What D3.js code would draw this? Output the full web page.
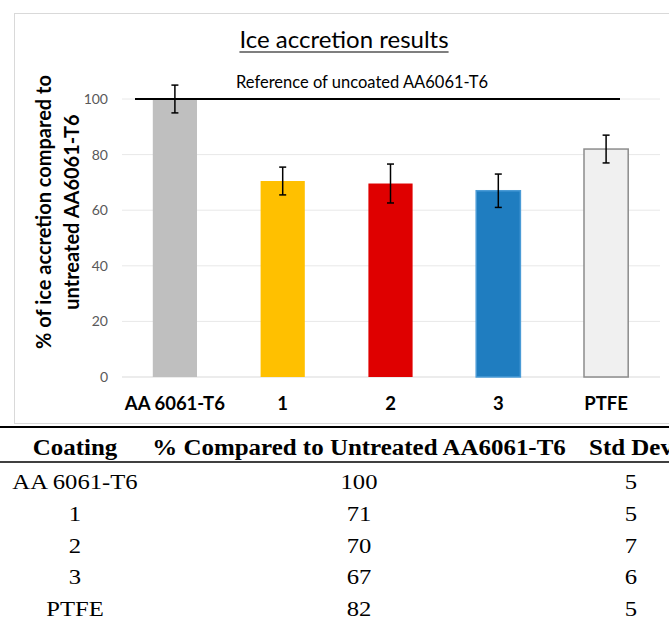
<!DOCTYPE html>
<html>
<head>
<meta charset="utf-8">
<script src="https://cdn.jsdelivr.net/npm/d3@7/dist/d3.min.js"></script>
<style>
  body { margin: 0; background: #fff; overflow: hidden; }
  svg { display: block; }
</style>
</head>
<body>
<div class="canvas"></div>
<script>
// data
const coatings = ["AA 6061-T6", "1", "2", "3", "PTFE"];
const iceValues = [100, 70.5, 69.6, 67.0, 82.0];
const stdDevs = [5, 5, 7, 6, 5];
const barColors = ["#bfbfbf", "#ffc000", "#df0000", "#1f7dc0", "#f0f0f0"];
const barStrokes = ["none", "none", "none", "#4a9bd6", "#8c8c8c"];
const yTicks = [0, 20, 40, 60, 80, 100];
const referenceValue = 100;

// table rows
const tableHeaders = ["Coating", "% Compared to Untreated AA6061-T6", "Std Dev"];
const tablePercent = ["100", "71", "70", "67", "82"];
const tableStd = ["5", "5", "7", "6", "5"];

const width = 669;
const height = 623;

const svg = d3
  .select(".canvas")
  .append("svg")
  .attr("width", width)
  .attr("height", height);

// stretch serif text a little so it reads like the wider book face
const widen = (sel, k) => {
  sel.each(function () {
    const w = this.getComputedTextLength();
    d3.select(this)
      .attr("textLength", w * k)
      .attr("lengthAdjust", "spacingAndGlyphs");
  });
};

// chart frame
svg
  .append("rect")
  .attr("x", 14.5)
  .attr("y", 13.5)
  .attr("width", 720)
  .attr("height", 410)
  .attr("fill", "#fff")
  .attr("stroke", "#d9d9d9");

// scales
const x = d3
  .scaleBand()
  .domain(coatings)
  .range([121, 660])
  .paddingInner(0.59)
  .paddingOuter(0.295);

const y = d3.scaleLinear().domain([0, 100]).range([377, 99]);

// gridlines
svg
  .append("g")
  .selectAll("line")
  .data(yTicks)
  .enter()
  .append("line")
  .attr("x1", 122)
  .attr("x2", 660)
  .attr("y1", (d) => y(d))
  .attr("y2", (d) => y(d))
  .attr("stroke", (d) => (d === 0 ? "#d9d9d9" : "#e8e8e8"))
  .attr("stroke-width", 1);

// y axis labels
const yAxis = d3
  .axisLeft(y)
  .tickValues(yTicks)
  .tickSize(0)
  .tickPadding(0);

const yAxisGroup = svg
  .append("g")
  .attr("transform", "translate(108,0)")
  .call(yAxis);

yAxisGroup.select(".domain").remove();
yAxisGroup
  .selectAll("text")
  .attr("font-family", "Lato, 'Open Sans', sans-serif")
  .attr("font-size", 14)
  .attr("fill", "#595959");

// bars
svg
  .append("g")
  .selectAll("rect")
  .data(coatings)
  .enter()
  .append("rect")
  .attr("x", (d) => x(d))
  .attr("y", (d, i) => y(iceValues[i]))
  .attr("width", x.bandwidth())
  .attr("height", (d, i) => y(0) - y(iceValues[i]))
  .attr("fill", (d, i) => barColors[i])
  .attr("stroke", (d, i) => barStrokes[i])
  .attr("stroke-width", 1.5);

// reference line
svg
  .append("line")
  .attr("x1", 135)
  .attr("x2", 620)
  .attr("y1", y(referenceValue))
  .attr("y2", y(referenceValue))
  .attr("stroke", "#000")
  .attr("stroke-width", 2);

svg
  .append("text")
  .attr("x", 362)
  .attr("y", 88)
  .attr("text-anchor", "middle")
  .attr("font-family", "Lato, 'Open Sans', sans-serif")
  .attr("font-size", 16.5)
  .attr("fill", "#000")
  .text("Reference of uncoated AA6061-T6");

// error bars
const errors = svg.append("g").attr("stroke", "#000").attr("stroke-width", 1.5);

coatings.forEach((c, i) => {
  const cx = x(c) + x.bandwidth() / 2;
  const top = y(iceValues[i] + stdDevs[i]);
  const bottom = y(iceValues[i] - stdDevs[i]);
  errors.append("line").attr("x1", cx).attr("x2", cx).attr("y1", top).attr("y2", bottom);
  errors.append("line").attr("x1", cx - 3.5).attr("x2", cx + 3.5).attr("y1", top).attr("y2", top);
  errors.append("line").attr("x1", cx - 3.5).attr("x2", cx + 3.5).attr("y1", bottom).attr("y2", bottom);
});

// x axis labels
svg
  .append("g")
  .selectAll("text")
  .data(coatings)
  .enter()
  .append("text")
  .attr("x", (d) => x(d) + x.bandwidth() / 2)
  .attr("y", 410)
  .attr("text-anchor", "middle")
  .attr("font-family", "Lato, 'Open Sans', sans-serif")
  .attr("font-weight", "bold")
  .attr("font-size", 18.5)
  .text((d) => d);

// title
const title = svg
  .append("text")
  .attr("x", 344)
  .attr("y", 48)
  .attr("text-anchor", "middle")
  .attr("font-family", "Lato, 'Open Sans', sans-serif")
  .attr("font-size", 24)
  .text("Ice accretion results");

const tw = title.node().getComputedTextLength();
svg
  .append("line")
  .attr("x1", 344 - tw / 2)
  .attr("x2", 344 + tw / 2)
  .attr("y1", 52)
  .attr("y2", 52)
  .attr("stroke", "#000")
  .attr("stroke-width", 1.2);

// y axis title, two lines
const yTitle = svg
  .append("g")
  .attr("font-family", "Lato, 'Open Sans', sans-serif")
  .attr("font-weight", "bold")
  .attr("font-size", 20)
  .attr("text-anchor", "middle");

yTitle
  .append("text")
  .attr("transform", "translate(51,212) rotate(-90)")
  .text("% of ice accretion compared to");

yTitle
  .append("text")
  .attr("transform", "translate(79,212) rotate(-90)")
  .text("untreated AA6061-T6");

// table below the chart
const colX = [75, 359, 631];
const rowBase = [489, 521, 553, 584, 616];

svg
  .append("line")
  .attr("x1", 0)
  .attr("x2", width)
  .attr("y1", 427)
  .attr("y2", 427)
  .attr("stroke", "#000")
  .attr("stroke-width", 2.2);

svg
  .append("line")
  .attr("x1", 0)
  .attr("x2", width)
  .attr("y1", 462)
  .attr("y2", 462)
  .attr("stroke", "#000")
  .attr("stroke-width", 1.5);

const headers = svg
  .append("g")
  .selectAll("text")
  .data(tableHeaders)
  .enter()
  .append("text")
  .attr("x", (d, i) => colX[i])
  .attr("y", 455)
  .attr("text-anchor", "middle")
  .attr("font-family", "'Liberation Serif', 'DejaVu Serif', serif")
  .attr("font-weight", "bold")
  .attr("font-size", 23)
  .text((d) => d);

widen(headers, 1.085);

const rows = svg
  .append("g")
  .attr("font-family", "'Liberation Serif', 'DejaVu Serif', serif")
  .attr("font-size", 22)
  .attr("text-anchor", "middle");

coatings.forEach((c, i) => {
  rows.append("text").attr("x", colX[0]).attr("y", rowBase[i]).text(c);
  rows.append("text").attr("x", colX[1]).attr("y", rowBase[i]).text(tablePercent[i]);
  rows.append("text").attr("x", colX[2]).attr("y", rowBase[i]).text(tableStd[i]);
});

widen(rows.selectAll("text"), 1.12);
</script>
</body>
</html>
